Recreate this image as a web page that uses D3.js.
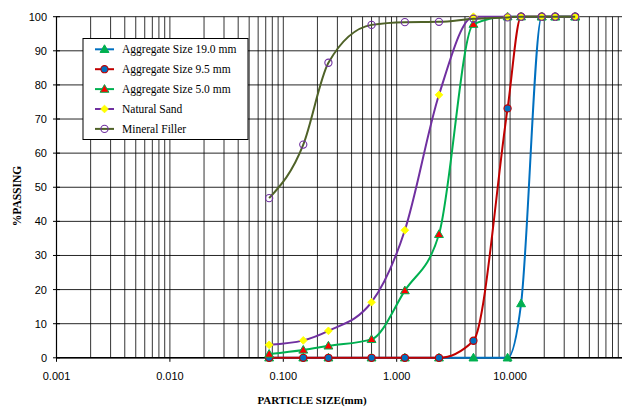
<!DOCTYPE html>
<html lang="en">
<head>
<meta charset="UTF-8">
<title>Particle size distribution</title>
<script src="https://d3js.org/d3.v7.min.js"></script>
<style>
    body { margin: 0; background: #fff; }
    .tick-label { font-family: "Liberation Sans", Arial, sans-serif; font-size: 11px; fill: #000; }
    .axis-title { font-family: "Liberation Serif", "DejaVu Serif", serif; font-weight: bold; font-size: 11px; fill: #000; }
    .legend-text { font-family: "Liberation Serif", "DejaVu Serif", serif; font-size: 11.5px; fill: #000; }
</style>
</head>
<body>
<div id="chart"></div>
<script>
// sieve sizes (mm)
const sieves = [0.075, 0.15, 0.25, 0.6, 1.18, 2.36, 4.75, 9.5, 12.5, 19, 25, 37.5];

// % passing for each material
const agg19 = [0, 0, 0, 0, 0, 0, 0, 0, 15.9, 100, 100, 100];
const agg95 = [0, 0, 0, 0, 0, 0, 5.0, 73.1, 100, 100, 100, 100];
const agg50 = [1.1, 2.3, 3.5, 5.4, 19.7, 36.2, 97.8, 100, 100, 100, 100, 100];
const naturalSand = [3.8, 5.1, 7.9, 16.3, 37.4, 77.1, 100, 100, 100, 100, 100, 100];
const mineralFiller = [46.8, 62.5, 86.5, 97.6, 98.4, 98.5, 99.4, 99.8, 100, 100, 100, 100];

const seriesNames = ['Aggregate Size 19.0 mm', 'Aggregate Size 9.5 mm', 'Aggregate Size 5.0 mm', 'Natural Sand', 'Mineral Filler'];
const xTickLabels = [0.001, 0.01, 0.1, 1, 10];
const yTickValues = [0, 10, 20, 30, 40, 50, 60, 70, 80, 90, 100];

const series = [
    { name: seriesNames[0], values: agg19, line: '#0070C0', marker: 'triangle', fill: '#00B050', stroke: '#00B050' },
    { name: seriesNames[1], values: agg95, line: '#C00000', marker: 'circle', fill: '#0070C0', stroke: '#C00000' },
    { name: seriesNames[2], values: agg50, line: '#00B050', marker: 'triangle', fill: '#FF0000', stroke: '#00B050' },
    { name: seriesNames[3], values: naturalSand, line: '#7030A0', marker: 'diamond', fill: '#FFFF00', stroke: '#FFFF00' },
    { name: seriesNames[4], values: mineralFiller, line: '#4F6228', marker: 'circle', fill: 'none', stroke: '#7030A0' }
];

const width = 622, height = 408;
const x = d3.scaleLog().domain([0.001, 100]).range([56.5, 623.5]);
const y = d3.scaleLinear().domain([0, 100]).range([357.8, 16.7]);

const svg = d3.select('#chart').append('svg')
    .attr('width', width)
    .attr('height', height);

// grid
const grid = svg.append('g');
grid.selectAll('.vgrid')
    .data(x.ticks())
    .enter().append('line')
    .attr('x1', d => x(d)).attr('x2', d => x(d))
    .attr('y1', y(0)).attr('y2', y(100))
    .attr('stroke', '#000').attr('stroke-width', 1).attr('stroke-opacity', 0.8);
grid.selectAll('.hgrid')
    .data(yTickValues)
    .enter().append('line')
    .attr('x1', x(0.001)).attr('x2', x(100))
    .attr('y1', d => y(d)).attr('y2', d => y(d))
    .attr('stroke', '#000').attr('stroke-width', 1).attr('stroke-opacity', 0.85);

// axes
svg.append('line')
    .attr('x1', x(0.001)).attr('x2', x(100))
    .attr('y1', y(0)).attr('y2', y(0))
    .attr('stroke', '#000').attr('stroke-width', 1.6);
svg.append('line')
    .attr('x1', x(0.001)).attr('x2', x(0.001))
    .attr('y1', y(0)).attr('y2', y(100))
    .attr('stroke', '#000').attr('stroke-width', 1.2);
svg.selectAll('.ytick')
    .data(yTickValues)
    .enter().append('line')
    .attr('x1', x(0.001) - 3.5).attr('x2', x(0.001) + 3.5)
    .attr('y1', d => y(d)).attr('y2', d => y(d))
    .attr('stroke', '#000');
svg.selectAll('.xtick')
    .data(xTickLabels)
    .enter().append('line')
    .attr('x1', d => x(d)).attr('x2', d => x(d))
    .attr('y1', y(0)).attr('y2', y(0) + 4)
    .attr('stroke', '#000');

svg.selectAll('.ylabel')
    .data(yTickValues)
    .enter().append('text')
    .attr('class', 'tick-label')
    .attr('x', 47)
    .attr('y', d => y(d))
    .attr('dy', '0.36em')
    .attr('text-anchor', 'end')
    .text(d => d);

svg.selectAll('.xlabel')
    .data(xTickLabels)
    .enter().append('text')
    .attr('class', 'tick-label')
    .attr('x', d => x(d))
    .attr('y', 379.5)
    .attr('text-anchor', 'middle')
    .text(d => d3.format('.3f')(d));

svg.append('text')
    .attr('class', 'axis-title')
    .attr('x', 312)
    .attr('y', 404)
    .attr('text-anchor', 'middle')
    .text('PARTICLE SIZE(mm)');

svg.append('text')
    .attr('class', 'axis-title')
    .attr('transform', 'translate(21,196) rotate(-90)')
    .attr('text-anchor', 'middle')
    .style('font-size', '11.5px')
    .text('%PASSING');

// series
const line = d3.line()
    .x((d, i) => x(sieves[i]))
    .y(d => y(d))
    .curve(d3.curveMonotoneX);

function drawMarker(g, s, cx, cy) {
    if (s.marker === 'triangle') {
        g.append('path')
            .attr('d', d3.symbol().type(d3.symbolTriangle).size(34)())
            .attr('transform', `translate(${cx},${cy + 0.6})`)
            .attr('fill', s.fill).attr('stroke', s.stroke).attr('stroke-width', 1);
    } else if (s.marker === 'diamond') {
        g.append('path')
            .attr('d', d3.symbol().type(d3.symbolSquare).size(30)())
            .attr('transform', `translate(${cx},${cy}) rotate(45)`)
            .attr('fill', s.fill).attr('stroke', s.stroke).attr('stroke-width', 0.8);
    } else {
        g.append('circle')
            .attr('cx', cx).attr('cy', cy).attr('r', 3.6)
            .attr('fill', s.fill).attr('stroke', s.stroke).attr('stroke-width', 1.1);
    }
}

const plot = svg.append('g');
series.forEach(s => {
    plot.append('path')
        .datum(s.values)
        .attr('fill', 'none')
        .attr('stroke', s.line)
        .attr('stroke-width', 2)
        .attr('d', line);
    const mg = plot.append('g');
    s.values.forEach((v, i) => drawMarker(mg, s, x(sieves[i]), y(v)));
});

// legend
const legend = svg.append('g');
legend.append('rect')
    .attr('x', 83).attr('y', 38.5)
    .attr('width', 165).attr('height', 101)
    .attr('fill', '#fff').attr('stroke', '#000').attr('stroke-width', 1);
series.forEach((s, i) => {
    const ly = 49.3 + i * 19.9;
    legend.append('line')
        .attr('x1', 95).attr('x2', 114)
        .attr('y1', ly).attr('y2', ly)
        .attr('stroke', s.line).attr('stroke-width', 2);
    drawMarker(legend, s, 104.5, ly);
    legend.append('text')
        .attr('class', 'legend-text')
        .attr('x', 122)
        .attr('y', ly)
        .attr('dy', '0.35em')
        .text(s.name);
});
</script>
</body>
</html>
